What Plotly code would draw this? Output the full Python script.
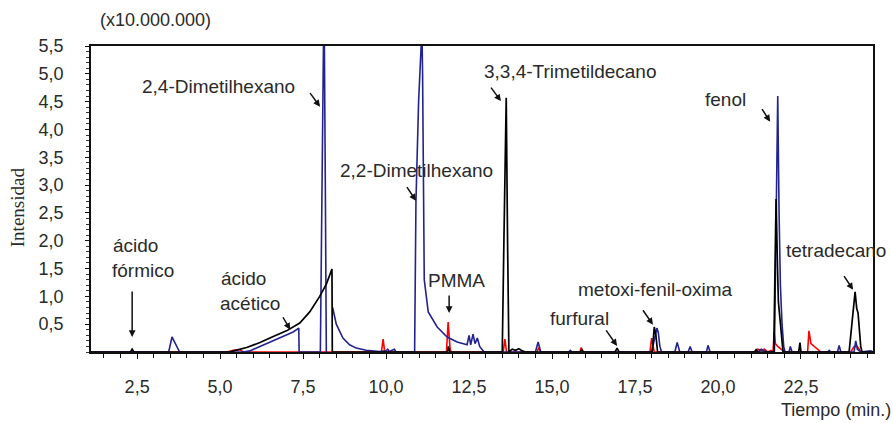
import plotly.graph_objects as go

# ---------------- data (time in min, intensity in x10.000.000) ----------------
blue_t = [1.11, 3.45, 3.55, 3.62, 3.68, 3.78, 5.7, 5.9, 6.2, 6.6, 7.0, 7.2, 7.37, 7.38,
          8.02, 8.08, 8.13, 8.17, 8.2, None,
          8.39, 8.5, 8.7, 8.9, 9.1, 9.4, 9.8, 10.0, 10.05, 10.1, 10.25, 10.3,
          10.86, 10.9, 10.98, 11.05, 11.08, 11.1, 11.12, 11.15, 11.27, 11.54, 11.84, 12.14, 12.44,
          12.5, 12.55, 12.62, 12.68, 12.75, 12.82, 12.9, 12.95,
          14.5, 14.58, 14.66, 15.5, 15.55, 15.6,
          18.0, 18.1, 18.16, 18.2, 18.25, 18.3, 18.7, 18.77, 18.85, 19.1, 19.16, 19.22,
          19.65, 19.7, 19.76, 21.2, 21.3, 21.4, 21.5,
          21.7, 21.76, 21.8, 21.84, 21.88, 21.93, 21.98, 22.02,
          22.14, 22.18, 22.23, 23.3, 23.35, 23.4, 23.6, 23.65, 23.7,
          24.1, 24.15, 24.2, 24.3, 24.6, 24.67]
blue_y = [0, 0, 0.27, 0.18, 0.1, 0, 0, 0.02, 0.1, 0.2, 0.3, 0.36, 0.43, 0,
          0, 3.0, 6.5, 3.0, 0, None,
          0.8, 0.5, 0.25, 0.13, 0.07, 0.03, 0.01, 0.02, 0.05, 0.01, 0.05, 0,
          0, 2.7, 4.5, 5.5, 5.8, 5.0, 2.5, 1.3, 0.72, 0.45, 0.27, 0.18, 0.13,
          0.3, 0.13, 0.32, 0.15, 0.25, 0.1, 0.05, 0,
          0, 0.18, 0, 0, 0.03, 0,
          0, 0.3, 0.43, 0.35, 0.1, 0, 0, 0.17, 0, 0, 0.1, 0,
          0, 0.12, 0, 0, 0.05, 0.02, 0,
          0, 2.5, 4.6, 2.5, 1.2, 0.5, 0.1, 0,
          0, 0.1, 0, 0, 0.03, 0, 0, 0.12, 0,
          0, 0.2, 0.05, 0, 0.02, 0]

black_t = [1.11, 2.3, 2.35, 2.4, 5.3, 5.4, 5.8, 6.2, 6.6, 7.0, 7.4, 7.7, 8.0, 8.2, 8.37, 8.38,
           11.85, 11.88, 11.92, 13.5, 13.55, 13.62, 13.66, 13.7, 13.8, 13.9, 14.0, 14.1, 14.2,
           15.85, 15.9, 15.95, 16.9, 16.96, 17.02, 18.02, 18.08, 18.13, 18.18,
           21.1, 21.15, 21.2, 21.68, 21.72, 21.75, 21.79, 21.82, 21.96,
           22.43, 22.47, 22.5, 23.95, 24.05, 24.13, 24.18, 24.22, 24.3, 24.34, 24.67]
black_y = [0, 0, 0.05, 0, 0, 0.02, 0.08, 0.17, 0.28, 0.38, 0.52, 0.72, 1.0, 1.22, 1.49, 0,
           0, 0.1, 0, 0, 2.0, 4.57, 2.0, 0, 0.05, 0.03, 0.06, 0.02, 0,
           0, 0.04, 0, 0, 0.07, 0, 0, 0.45, 0.3, 0,
           0, 0.04, 0, 0, 2.0, 2.75, 1.6, 0.9, 0,
           0, 0.17, 0, 0, 0.6, 1.08, 0.78, 0.7, 0.1, 0, 0]

red_t = [1.11, 5.2, 5.4, 5.6, 5.7, 9.86, 9.91, 9.96, 11.82, 11.87, 11.93, 11.96,
         13.53, 13.58, 13.63, 14.55, 14.6, 14.65, 15.84, 15.88, 15.92,
         17.95, 18.0, 18.05, 18.08, 21.1, 21.2, 21.3, 21.4, 21.5, 21.6,
         21.66, 21.69, 21.73, 21.8, 21.9, 22.0, 22.7, 22.74, 22.8, 22.9, 23.0, 23.1,
         24.0, 24.1, 24.2, 24.3, 24.67]
red_y = [0, 0, 0.03, 0.04, 0, 0, 0.23, 0, 0, 0.54, 0.05, 0,
         0, 0.23, 0, 0, 0.08, 0, 0, 0.08, 0,
         0, 0.25, 0.1, 0, 0, 0.05, 0.03, 0.05, 0, 0.03,
         0, 0.36, 0.15, 0.1, 0.05, 0, 0, 0.38, 0.15, 0.1, 0.06, 0,
         0, 0.1, 0.1, 0, 0]

x_ticks = [2.5, 5.0, 7.5, 10.0, 12.5, 15.0, 17.5, 20.0, 22.5]
x_labels = ["2,5", "5,0", "7,5", "10,0", "12,5", "15,0", "17,5", "20,0", "22,5"]
y_ticks = [0.5, 1.0, 1.5, 2.0, 2.5, 3.0, 3.5, 4.0, 4.5, 5.0, 5.5]
y_labels = ["0,5", "1,0", "1,5", "2,0", "2,5", "3,0", "3,5", "4,0", "4,5", "5,0", "5,5"]

# (text, x, y) for labels
labels = [
    ("2,4-Dimetilhexano", 4.94, 4.77),
    ("2,2-Dimetilhexano", 10.93, 3.26),
    ("3,3,4-Trimetildecano", 15.54, 5.04),
    ("fenol", 20.24, 4.53),
    ("tetradecano", 23.55, 1.83),
    ("ácido", 2.44, 1.91),
    ("fórmico", 2.68, 1.46),
    ("ácido", 5.69, 1.33),
    ("acético", 5.9, 0.88),
    ("PMMA", 12.11, 1.28),
    ("furfural", 15.84, 0.61),
    ("metoxi-fenil-oxima", 18.13, 1.13),
]
# arrows: tip (x, y) and tail offset (ax, ay) in px
arrows = [
    (8.01, 4.41, -11, -15),
    (10.9, 2.72, -10, -15),
    (13.46, 4.51, -11, -15),
    (21.57, 4.14, -9, -14),
    (24.07, 1.12, -10, -15),
    (2.35, 0.27, 0, -47),
    (7.11, 0.40, -8, -14),
    (11.9, 0.70, 0, -19),
    (16.96, 0.11, -12, -17),
    (18.04, 0.49, -11, -16),
]

FONT = "Liberation Sans"
TXT = "#2a2a2a"

fig = go.Figure()
fig.add_trace(go.Scatter(x=red_t, y=red_y, mode="lines", line=dict(color="#ff0000", width=1.6),
                         connectgaps=False, showlegend=False, cliponaxis=True))
fig.add_trace(go.Scatter(x=blue_t, y=blue_y, mode="lines", line=dict(color="#23238f", width=1.6),
                         connectgaps=False, showlegend=False, cliponaxis=True))
fig.add_trace(go.Scatter(x=black_t, y=black_y, mode="lines", line=dict(color="#000000", width=1.7),
                         connectgaps=False, showlegend=False, cliponaxis=True))

anns = []
for txt, x, y in labels:
    anns.append(dict(x=x, y=y, xref="x", yref="y", text=txt, showarrow=False,
                     xanchor="center", yanchor="middle",
                     font=dict(family=FONT, size=19, color=TXT)))
for x, y, ax, ay in arrows:
    anns.append(dict(x=x, y=y, xref="x", yref="y", text="", showarrow=True, ax=ax, ay=ay,
                     arrowhead=2, arrowsize=0.9, arrowwidth=1.5, arrowcolor="#111", standoff=0))
anns.append(dict(xref="paper", yref="paper", x=0.082, y=1.085, xanchor="center", yanchor="middle",
                 text="(x10.000.000)", showarrow=False,
                 font=dict(family=FONT, size=18, color=TXT)))
anns.append(dict(xref="paper", yref="paper", x=1.0256, y=-0.19, xanchor="right", yanchor="middle",
                 text="Tiempo (min.)", showarrow=False, font=dict(family=FONT, size=18, color=TXT)))
anns.append(dict(xref="paper", yref="paper", x=-0.093, y=0.474, xanchor="center", yanchor="middle",
                 text="Intensidad", textangle=-90, showarrow=False,
                 font=dict(family="Liberation Serif", size=19, color=TXT)))

fig.update_layout(
    width=893, height=423,
    margin=dict(l=91, r=20, t=46, b=71, autoexpand=False),
    paper_bgcolor="white", plot_bgcolor="white",
    annotations=anns,
    xaxis=dict(range=[1.11, 24.67], tickvals=x_ticks, ticktext=x_labels, showgrid=False,
               zeroline=False, showline=True, linecolor="#111", linewidth=1.5, mirror=True,
               automargin=False,
               ticks="outside", ticklen=5, tickwidth=1.3, tickcolor="#111",
               minor=dict(dtick=0.5, ticks="outside", ticklen=4, tickwidth=1.2, tickcolor="#111"),
               ticklabelstandoff=13,
               tickfont=dict(family=FONT, size=18, color=TXT)),
    yaxis=dict(range=[0, 5.5], tickvals=y_ticks, ticktext=y_labels, showgrid=False,
               zeroline=False, showline=True, linecolor="#111", linewidth=1.5, mirror=True,
               automargin=False,
               ticks="outside", ticklen=4, tickwidth=1.2, tickcolor="#111",
               minor=dict(dtick=0.1, ticks="outside", ticklen=3, tickwidth=1, tickcolor="#333"),
               ticklabelstandoff=18,
               tickfont=dict(family=FONT, size=18, color=TXT)),
)

fig.write_html("out.html", config={"displayModeBar": False},
               post_script="document.body.style.margin='0px';document.body.style.overflow='hidden';")
